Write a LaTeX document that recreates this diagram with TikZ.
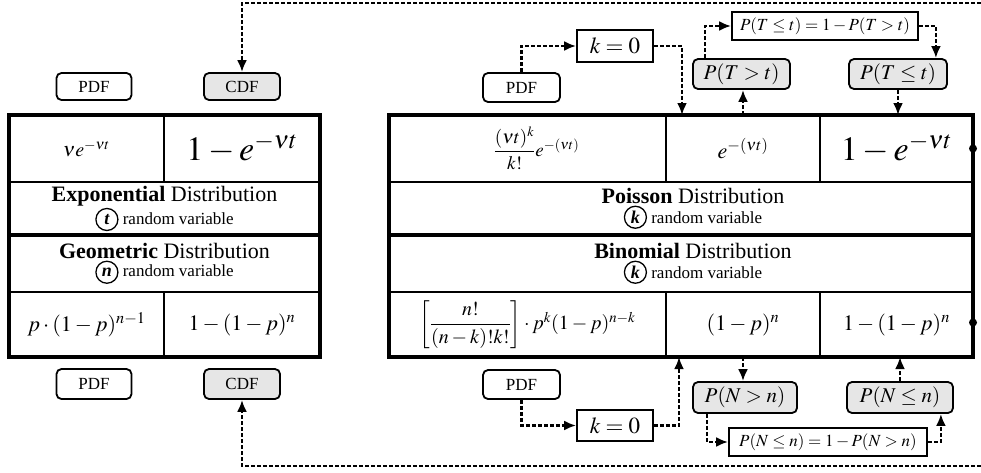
\documentclass[tikz,border=0pt]{standalone}
\usepackage{amsmath}
\usepackage{mathptmx}
\usepackage{fontspec}
\setmainfont{Liberation Serif}
\usetikzlibrary{arrows.meta,calc}
\definecolor{boxgray}{HTML}{E6E6E6}
\newcommand{\fs}[1]{\fontsize{#1}{#1}\selectfont}
\newcommand{\rvc}[1]{\tikz[baseline=(rvcn.base)]\node[draw,circle,line width=1.3pt,inner sep=0pt,minimum size=22pt](rvcn){\fs{18}\bfseries\itshape #1};}
\tikzset{
  cell/.style={draw,line width=1.5pt,inner sep=0pt,outer sep=0pt,anchor=center},
  outerline/.style={line width=4pt,line cap=rect},
  smallbox/.style={draw,rounded corners=5pt,line width=1.8pt,inner sep=0pt,font=\fs{17}},
  graybox/.style={smallbox,fill=boxgray},
  plainbox/.style={draw,line width=1.8pt,inner sep=0pt},
  conn/.style={line width=2.4pt,dash pattern=on 4pt off 2pt,-{Latex[length=12pt,width=10pt]}},
  dot/.style={circle,fill=black,inner sep=0pt,minimum size=8pt},
  title/.style={cell,align=center}
}
\begin{document}
\begin{tikzpicture}[x=1pt,y=-1pt]
\useasboundingbox (0,0) rectangle (981,472);
% ---------- left table ----------
\node[cell,minimum width=155pt,minimum height=67pt] (l11) at (86.5,148.5) {\fs{20}$\nu e^{-\nu t}$};
\node[cell,minimum width=156pt,minimum height=67pt] (l12) at (242,148.5) {\fs{34}$1-e^{-\nu t}$};
\node[title,minimum width=311pt,minimum height=53pt] (lexp) at (164.5,208.5)
  {{\fs{22}\textbf{Exponential} Distribution}\\[1pt]{\fs{17}\rvc{t} random variable}};
\node[title,minimum width=311pt,minimum height=57pt] (lgeo) at (164.5,263.5)
  {{\fs{22}\textbf{Geometric} Distribution}\\[1pt]{\fs{17}\rvc{n} random variable}};
\node[cell,minimum width=155pt,minimum height=65pt] (l31) at (86.5,324.5) {\fs{22}$p\cdot(1-p)^{n-1}$};
\node[cell,minimum width=156pt,minimum height=65pt] (l32) at (242,324.5) {\fs{22}$1-(1-p)^{n}$};
\draw[outerline] (l11.north west) rectangle (l32.south east);
\draw[outerline] (lexp.south west) -- (lexp.south east);
% left small boxes
\node[smallbox,minimum width=75pt,minimum height=27pt] (pdfA) at (94,86.5) {PDF};
\node[graybox,minimum width=76pt,minimum height=27pt] (cdfA) at (242,86.5) {CDF};
\node[smallbox,minimum width=75pt,minimum height=30pt] (pdfB) at (94,384) {PDF};
\node[graybox,minimum width=76pt,minimum height=30pt] (cdfB) at (242,384) {CDF};
% ---------- right table ----------
\node[cell,minimum width=277pt,minimum height=67pt] (r11) at (527.5,148.5) {\hspace*{18pt}\fs{19}$\dfrac{(\nu t)^{k}}{k!}e^{-(\nu t)}$};
\node[cell,minimum width=154pt,minimum height=67pt] (r12) at (743,148.5) {\fs{22}$e^{-(\nu t)}$};
\node[cell,minimum width=153pt,minimum height=67pt] (r13) at (896.5,148.5) {\fs{34}$1-e^{-\nu t}$};
\node[title,minimum width=584pt,minimum height=53pt] (rpoi) at (681,208.5)
  {\hspace*{24pt}{\fs{22}\textbf{Poisson} Distribution}\\[1pt]\hspace*{24pt}{\fs{17}\rvc{k} random variable}};
\node[title,minimum width=584pt,minimum height=57pt] (rbin) at (681,263.5)
  {\hspace*{24pt}{\fs{22}\textbf{Binomial} Distribution}\\[1pt]\hspace*{24pt}{\fs{17}\rvc{k} random variable}};
\node[cell,minimum width=277pt,minimum height=65pt] (r31) at (527.5,324.5) {\fs{20}$\left[\dfrac{n!}{(n-k)!k!}\right]\cdot p^{k}(1-p)^{n-k}$};
\node[cell,minimum width=154pt,minimum height=65pt] (r32) at (743,324.5) {\fs{22}$(1-p)^{n}$};
\node[cell,minimum width=153pt,minimum height=65pt] (r33) at (896.5,324.5) {\fs{22}$1-(1-p)^{n}$};
\draw[outerline] (r11.north west) rectangle (r33.south east);
\draw[outerline] (rpoi.south west) -- (rpoi.south east);
\node[dot] (d1) at (r13.east) {};
\node[dot] (d2) at ($(r33.east)+(0,-2)$) {};
% right top boxes
\node[smallbox,minimum width=77pt,minimum height=29pt] (pdfR) at (521.5,87.5) {PDF};
\node[plainbox,minimum width=76pt,minimum height=32pt] (k0T) at (615,46) {\fs{23}$k=0$};
\node[graybox,minimum width=97pt,minimum height=30pt,font=\fs{21}] (ptg) at (741.5,74) {$P(T>t)$};
\node[graybox,minimum width=98pt,minimum height=30pt,font=\fs{21}] (ptle) at (898,74) {$P(T\leq t)$};
\node[plainbox,minimum width=186pt,minimum height=28pt] (ftop) at (825,26) {\fs{17}$P(T\leq t)=1-P(T>t)$};
% right bottom boxes
\node[smallbox,minimum width=77pt,minimum height=29pt] (pdfRB) at (521.5,384.5) {PDF};
\node[plainbox,minimum width=76pt,minimum height=31pt] (k0B) at (615,425.5) {\fs{23}$k=0$};
\node[graybox,minimum width=104pt,minimum height=31pt,font=\fs{21}] (pngt) at (745,397.5) {$P(N>n)$};
\node[graybox,minimum width=106pt,minimum height=31pt,font=\fs{21}] (pnle) at (900,397.5) {$P(N\leq n)$};
\node[plainbox,minimum width=198pt,minimum height=28pt] (fbot) at (828,442) {\fs{17}$P(N\leq n)=1-P(N>n)$};
% free ends of the long connectors
\coordinate (topR) at (981,3);
\coordinate (botR) at (981,466);
\coordinate (a1) at ($(r12.north west)+(16,0)$);
\coordinate (a2) at ($(r32.south west)+(13,0)$);
% ---------- connectors ----------
\draw[conn] (topR) -| (cdfA.north);
\draw[conn] (botR) -| (cdfB.south);
\draw[conn] (pdfR.north) |- (k0T.west);
\draw[conn] (k0T.east) -| (a1);
\draw[conn] (r12.north) -- (r12.north |- ptg.south);
\draw[conn] ($(ptg.north west)+(13,0)$) |- (ftop.west);
\draw[conn] (ftop.east) -| ($(ptle.north east)+(-12,0)$);
\draw[conn] (ptle.south) -- (ptle.south |- r13.north);
\draw[conn] (pdfRB.south) |- (k0B.west);
\draw[conn] (k0B.east) -| (a2);
\draw[conn] (r32.south) -- (r32.south |- pngt.north);
\draw[conn] ($(pngt.south west)+(15,0)$) |- (fbot.west);
\draw[conn] (fbot.east) -| ($(pnle.south east)+(-13,0)$);
\draw[conn] (pnle.north) -- (pnle.north |- r33.south);
\end{tikzpicture}
\end{document}
